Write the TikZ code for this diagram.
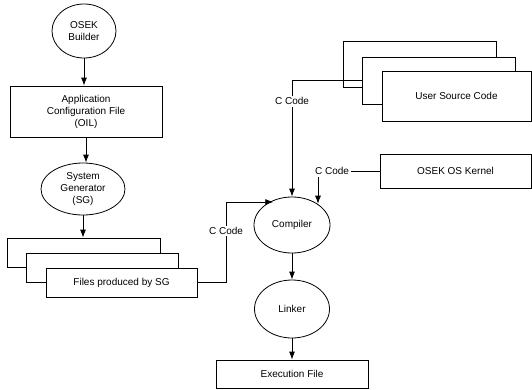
\documentclass[tikz,border=0pt]{standalone}
\usepackage{fontspec}
\setmainfont{Liberation Sans}
\usetikzlibrary{shapes.geometric,arrows.meta}
\tikzstyle{every node}=[font=\fontsize{10}{12}\selectfont, align=center, inner sep=1pt]
\tikzstyle{tool}=[ellipse, draw, fill=white]
\tikzstyle{file}=[rectangle, draw, fill=white]
\tikzstyle{code}=[fill=white, inner sep=1.5pt]
\tikzstyle{flow}=[-{Latex[length=8pt,width=6pt]}]

\begin{document}
\begin{tikzpicture}[x=1pt, y=-1pt, line width=0.8pt]
\useasboundingbox (0,0) rectangle (532,389);
% Configuration side
    \node[tool, minimum width=64, minimum height=54] (builder) at (84,31) {OSEK\\Builder};
    \node[file, minimum width=152, minimum height=51] (oil) at (86,111.5) {Application\\Configuration File\\(OIL)};
    \node[tool, minimum width=84, minimum height=52] (sg) at (83,189) {System\\Generator\\(SG)};
    \node[file, minimum width=153, minimum height=29] (sgfile1) at (83.5,252.5) {};
    \node[file, minimum width=152, minimum height=29] (sgfile2) at (102,267.5) {};
    \node[file, minimum width=151, minimum height=29] (sgfile3) at (121.5,282.5) {Files produced by SG};
% Build side
    \node[file, minimum width=153, minimum height=46] (user1) at (419.5,64) {};
    \node[file, minimum width=153, minimum height=47] (user2) at (438.5,80.5) {};
    \node[file, minimum width=149, minimum height=50] (user3) at (456.5,96) {User Source Code};
    \node[file, minimum width=151, minimum height=34] (kernel) at (455.5,171) {OSEK OS Kernel};
    \node[tool, minimum width=76, minimum height=56] (compiler) at (292,225) {Compiler};
    \node[tool, minimum width=75, minimum height=58] (linker) at (292,309) {Linker};
    \node[file, minimum width=152, minimum height=28] (exec) at (292,374) {Execution File};
% Flows
    \draw[flow] (builder) -- (builder |- oil.north);
    \draw[flow] (oil) -- (oil |- sg.north);
    \draw[flow] (sg) -- (sg |- sgfile1.north);
    \coordinate (sgbend) at (226,202);
    \draw[flow] (sgfile3.east) -| node[code, pos=0.82] (sgcode) {C Code} (sgbend) -- (sgbend -| compiler.127);
    \draw[flow] (user2.west) -| node[code, pos=0.59] (usercode) {C Code} (compiler.north);
    \node[code] (kernelcode) at (332,171) {C Code};
    \draw (kernel.west) -- (kernelcode.east);
    \coordinate (kdrop) at (318,177);
    \draw[flow] (kdrop) -- (kdrop |- compiler.40);
    \draw[flow] (compiler) -- (linker);
    \draw[flow] (linker) -- (exec);
\end{tikzpicture}
\end{document}
